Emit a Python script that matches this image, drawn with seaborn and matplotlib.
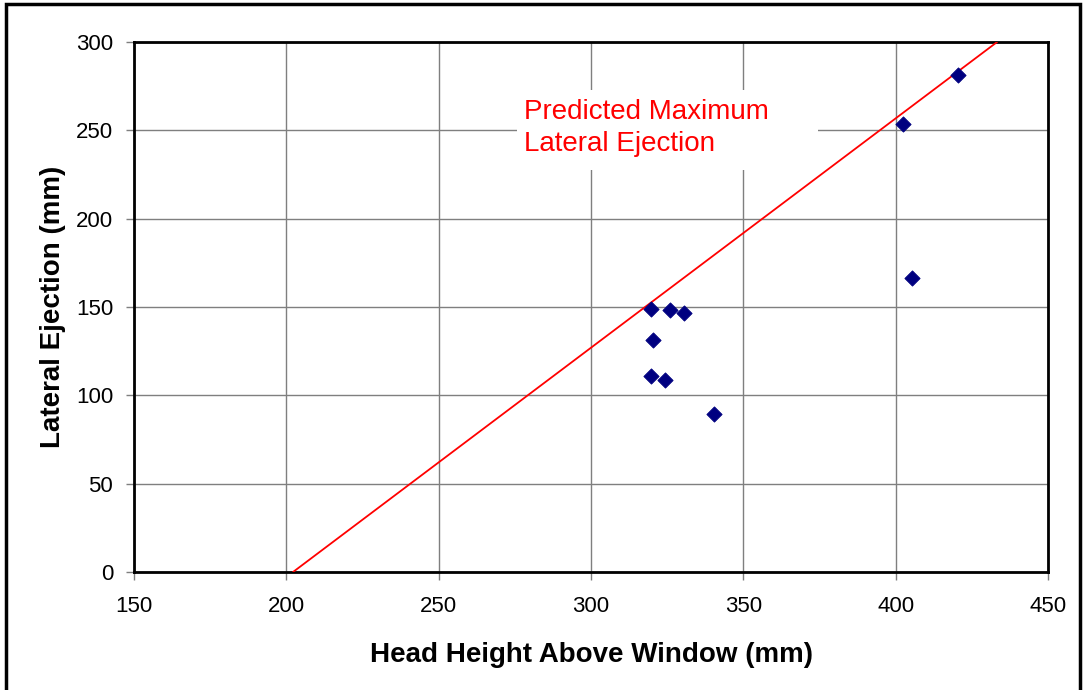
import numpy as np
import pandas as pd
import seaborn as sns
import matplotlib.pyplot as plt
from matplotlib.patches import Rectangle

head_height = [420.4, 402.4, 405.3, 319.6, 325.8, 330.4, 320.2, 319.6, 324.2, 340.3]
lateral_ejection = [281.3, 253.5, 166.4, 148.8, 148.3, 146.6, 131.3, 110.9, 108.7, 89.4]

# predicted maximum line end points
pred_x = [202.2, 433.3]
pred_y = [0, 300]

x_ticks = [150, 200, 250, 300, 350, 400, 450]
y_ticks = [0, 50, 100, 150, 200, 250, 300]

sns.set_style("white")
plt.rcParams['font.family'] = ['Liberation Sans', 'DejaVu Sans']

df = pd.DataFrame({'head': head_height, 'lat': lateral_ejection})

fig = plt.figure(figsize=(10.84, 6.90), dpi=100)
ax = fig.add_axes([134 / 1084, 1 - 572 / 690, (1048 - 134) / 1084, (572 - 42) / 690])

# outer frame around the whole figure
fig.patches.append(Rectangle((6 / 1084, -0.01), 1 - 10 / 1084, 1 - 4 / 690 + 0.01,
                             transform=fig.transFigure, fill=False,
                             edgecolor='black', linewidth=2.5))

ax.plot(pred_x, pred_y, color='red', lw=1.3, zorder=3)
sns.scatterplot(data=df, x='head', y='lat', marker='D', s=60, color='#000080',
                edgecolor='#000080', ax=ax, zorder=4)

ax.set_xlim(150, 450)
ax.set_ylim(0, 300)
ax.set_xticks(x_ticks)
ax.set_yticks(y_ticks)
ax.grid(True, color='#7f7f7f', lw=1)
ax.set_axisbelow(True)
for s in ax.spines.values():
    s.set_color('black')
    s.set_linewidth(2)
    s.set_visible(True)
ax.tick_params(axis='both', direction='out', length=6, width=1, color='#7f7f7f',
               labelsize=16, labelcolor='black', left=True, bottom=True)
ax.tick_params(axis='x', pad=11)
ax.tick_params(axis='y', pad=9)

ax.set_xlabel('Head Height Above Window (mm)', fontsize=20, fontweight='bold',
              labelpad=18, color='black')
ax.set_ylabel('Lateral Ejection (mm)', fontsize=20, fontweight='bold',
              labelpad=7, color='black')

# white label box hiding the grid behind the annotation
ax.add_patch(Rectangle((275.7, 227.5), 98.8, 45.3, facecolor='white', edgecolor='none', zorder=2))
ax.text(278, 268, 'Predicted Maximum\nLateral Ejection', color='red', fontsize=20,
        va='top', ha='left', linespacing=1.3, zorder=5)

fig.savefig('out.png', dpi=100)
